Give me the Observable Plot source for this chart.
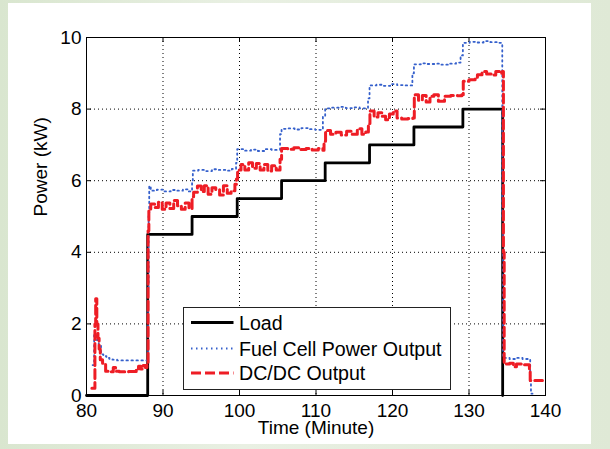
<!DOCTYPE html>
<html><head><meta charset="utf-8">
<script src="https://cdn.jsdelivr.net/npm/d3@7"></script>
<script src="https://cdn.jsdelivr.net/npm/@observablehq/plot@0.6"></script>
<style>
html,body{margin:0;padding:0;}
body{width:610px;height:449px;background:linear-gradient(to right,#d9e6cf,#e9f0e3 40%,#dfe9d6);position:relative;overflow:hidden;font-family:"Liberation Sans",Arial,sans-serif;}
#card{position:absolute;left:8px;top:3px;width:583px;height:441px;background:#fff;}
#chart{position:absolute;left:0;top:0;}
#legend{position:absolute;left:183px;top:307px;width:266px;height:81px;border:1px solid #222;background:#fff;}
#legend svg{display:block;}
</style></head><body>
<div id="card"></div><div id="chart"></div><div id="legend"></div>
<script>
// ---- data ----
const xTicks = [80, 90, 100, 110, 120, 130, 140];
const yTicks = [0, 2, 4, 6, 8, 10];

const loadTime  = [80, 88.0, 93.8, 99.7, 105.5, 111.2, 117.0, 122.8, 129.2, 134.4];
const loadPower = [0,  4.5,  5.0,  5.5,  6.0,   6.5,   7.0,   7.5,   8.0,   0];

const fcTime  = [80.8, 81.0, 81.3, 81.6, 81.9, 82.2, 82.6, 83.0, 83.4, 84.0, 86.0, 87.9,
  88.05, 88.12, 88.2, 88.4, 89.2, 90.1, 91.0, 91.8, 92.6, 93.3, 93.8,
  93.9, 94.6, 95.5, 96.4, 97.3, 98.2, 99.0, 99.55, 99.7,
  100.5, 101.5, 102.4, 103.3, 104.2, 105.3, 105.5,
  106.3, 107.2, 108.1, 109.0, 109.9, 110.9, 111.2,
  112.1, 113.0, 113.9, 114.8, 115.7, 116.8, 117.0,
  117.9, 118.8, 119.7, 120.6, 121.5, 122.6, 122.8,
  123.7, 124.6, 125.5, 126.4, 127.3, 128.3, 128.9, 129.2,
  130.1, 131.0, 131.9, 132.8, 133.7, 134.35, 134.45,
  134.55, 135.3, 136.2, 137.0, 137.9, 138.0, 138.1, 138.3];
const fcPower = [0.85, 1.7, 1.55, 1.4, 1.15, 1.1, 1.05, 1.02, 1.0, 0.98, 0.98, 0.98,
  3.0, 5.1, 5.85, 5.72, 5.75, 5.7, 5.74, 5.72, 5.76, 5.7, 6.0,
  6.28, 6.3, 6.27, 6.32, 6.3, 6.28, 6.33, 6.5, 6.88,
  6.84, 6.87, 6.83, 6.88, 6.86, 7.3, 7.45,
  7.46, 7.43, 7.47, 7.44, 7.42, 7.8, 8.02,
  8.04, 8.06, 8.03, 8.05, 8.02, 8.3, 8.66,
  8.68, 8.65, 8.7, 8.67, 8.66, 9.0, 9.25,
  9.28, 9.26, 9.27, 9.24, 9.27, 9.3, 9.5, 9.85,
  9.88, 9.86, 9.9, 9.87, 9.85, 5.0, 1.05,
  1.05, 1.02, 1.05, 1.02, 1.0, 0.4, 0.05, 0.05];

const dcTime  = [80.7, 81.1, 81.2, 81.35, 81.5, 81.65, 81.8, 82.1, 82.5, 83.2, 83.5, 83.8, 84.3, 85.5, 86.5, 86.8, 87.1, 87.4, 87.7, 87.9,
  88.05, 88.15, 88.4, 88.9, 89.4, 89.9, 90.4, 90.9, 91.4, 91.9, 92.4, 92.9, 93.4, 93.8,
  94.0, 94.5, 95.0, 95.4, 95.9, 96.4, 96.9, 97.4, 97.9, 98.4, 98.9, 99.4, 99.6,
  99.75, 100.2, 100.7, 101.2, 101.7, 102.2, 102.7, 103.2, 103.7, 104.2, 104.8, 105.3,
  105.5, 106.3, 107.1, 107.9, 108.7, 109.5, 110.3, 110.9, 111.05,
  111.25, 111.9, 112.6, 113.3, 114.0, 114.7, 115.4, 116.0, 116.5, 116.85,
  117.05, 117.6, 118.1, 118.6, 119.1, 119.6, 120.1, 120.6, 121.2, 122.0, 122.65,
  122.85, 123.4, 123.9, 124.4, 124.9, 125.4, 126.0, 126.8, 127.6, 128.5, 129.05,
  129.25, 130.0, 130.8, 131.1, 131.7, 132.3, 132.9, 133.5, 134.0, 134.35,
  134.5, 134.6, 135.3, 135.8, 136.2, 137.0, 137.9, 138.0, 139.6];
const dcPower = [0.2, 2.0, 2.7, 2.0, 1.6, 1.3, 1.0, 0.9, 0.68, 0.66, 0.78, 0.68, 0.66, 0.67, 0.75, 0.82, 0.74, 0.84, 0.78, 0.9,
  4.6, 5.2, 5.35, 5.25, 5.4, 5.2, 5.38, 5.22, 5.45, 5.3, 5.2, 5.38, 5.22, 5.55,
  5.68, 5.85, 5.7, 5.86, 5.62, 5.8, 5.75, 5.6, 5.86, 5.65, 5.72, 5.9, 6.05,
  6.3, 6.45, 6.3, 6.5, 6.35, 6.48, 6.3, 6.45, 6.27, 6.42, 6.3, 6.6,
  6.9, 6.88, 6.92, 6.87, 6.9, 6.86, 6.9, 6.85, 7.1,
  7.4, 7.3, 7.35, 7.28, 7.38, 7.3, 7.45, 7.3, 7.36, 7.6,
  7.95, 7.78, 7.9, 7.8, 7.7, 7.86, 7.95, 7.75, 7.72, 7.74, 7.75,
  8.4, 8.25, 8.38, 8.2, 8.36, 8.4, 8.22, 8.36, 8.38, 8.37, 8.4,
  8.78, 8.82, 8.85, 8.96, 9.05, 8.98, 8.95, 9.05, 9.0, 9.05,
  4.0, 0.88, 0.9, 0.8, 0.88, 0.86, 0.7, 0.42, 0.42];

// ---- build ----
const rows = (T, V) => T.map((t, i) => ({t, v: V[i]}));
const W = 610, H = 449, mL = 86, mR = 65, mT = 37, mB = 54;
const plotW = W - mL - mR, plotH = H - mT - mB;
const font = "Liberation Sans, Arial, sans-serif";

const chart = Plot.plot({
  width: W, height: H,
  marginLeft: mL, marginRight: mR, marginTop: mT, marginBottom: mB,
  style: {background: "transparent", fontFamily: font, overflow: "visible"},
  x: {domain: [80, 140], label: null},
  y: {domain: [0, 10], label: null},
  marks: [
    Plot.gridX(xTicks.slice(1, -1), {stroke: "#000", strokeOpacity: 1, strokeWidth: 1, strokeDasharray: "1,3"}),
    Plot.gridY(yTicks.slice(1, -1), {stroke: "#000", strokeOpacity: 1, strokeWidth: 1, strokeDasharray: "1,3"}),
    Plot.ruleX(xTicks, {x: d => d, insetTop: plotH - 5, stroke: "#000"}),
    Plot.ruleX(xTicks, {x: d => d, insetBottom: plotH - 5, stroke: "#000"}),
    Plot.ruleY(yTicks, {y: d => d, insetRight: plotW - 5, stroke: "#000"}),
    Plot.ruleY(yTicks, {y: d => d, insetLeft: plotW - 5, stroke: "#000"}),
    Plot.axisX(xTicks, {tickSize: 0, tickPadding: 8, fontSize: 19, fill: "#000", label: null}),
    Plot.axisY(yTicks, {tickSize: 0, tickPadding: 5, fontSize: 19, fill: "#000", label: null}),
    Plot.line(rows(loadTime, loadPower), {x: "t", y: "v", curve: "step-after", stroke: "#000", strokeWidth: 2.8}),
    Plot.line(rows(fcTime, fcPower), {x: "t", y: "v", curve: "step-after", stroke: "#3560cc", strokeWidth: 1.8, strokeDasharray: "1.5,3.5"}),
    Plot.line(rows(dcTime, dcPower), {x: "t", y: "v", curve: "step-after", stroke: "#ee1d25", strokeWidth: 3, strokeDasharray: "9,4"}),
    Plot.frame({stroke: "#000", strokeWidth: 1}),
    Plot.text(["Time (Minute)"], {frameAnchor: "bottom", dy: 38, text: d => d, fontSize: 19, fill: "#000"}),
    Plot.text(["Power (kW)"], {frameAnchor: "left", dx: -45.5, rotate: -90, text: d => d, fontSize: 19, fill: "#000"})
  ]
});
document.getElementById("chart").appendChild(chart);

// ---- legend ----
const legendItems = ["Load", "Fuel Cell Power Output", "DC/DC Output"];
const legendStyles = [
  {stroke: "#000", width: 2.8, dash: null},
  {stroke: "#3560cc", width: 1.8, dash: "1.5,3.5"},
  {stroke: "#ee1d25", width: 3, dash: "10,4"}
];
const lsvg = d3.select("#legend").append("svg").attr("width", 266).attr("height", 81)
  .style("font-family", font);
const rowY = [14.5, 40.5, 65];
legendItems.forEach((name, i) => {
  const s = legendStyles[i];
  lsvg.append("line").attr("x1", 7).attr("x2", 49.5).attr("y1", rowY[i]).attr("y2", rowY[i])
    .attr("stroke", s.stroke).attr("stroke-width", s.width).attr("stroke-dasharray", s.dash);
  lsvg.append("text").attr("x", 55).attr("y", rowY[i] + 7).attr("font-size", 19.6).attr("fill", "#000").text(name);
});
</script>
</body></html>
